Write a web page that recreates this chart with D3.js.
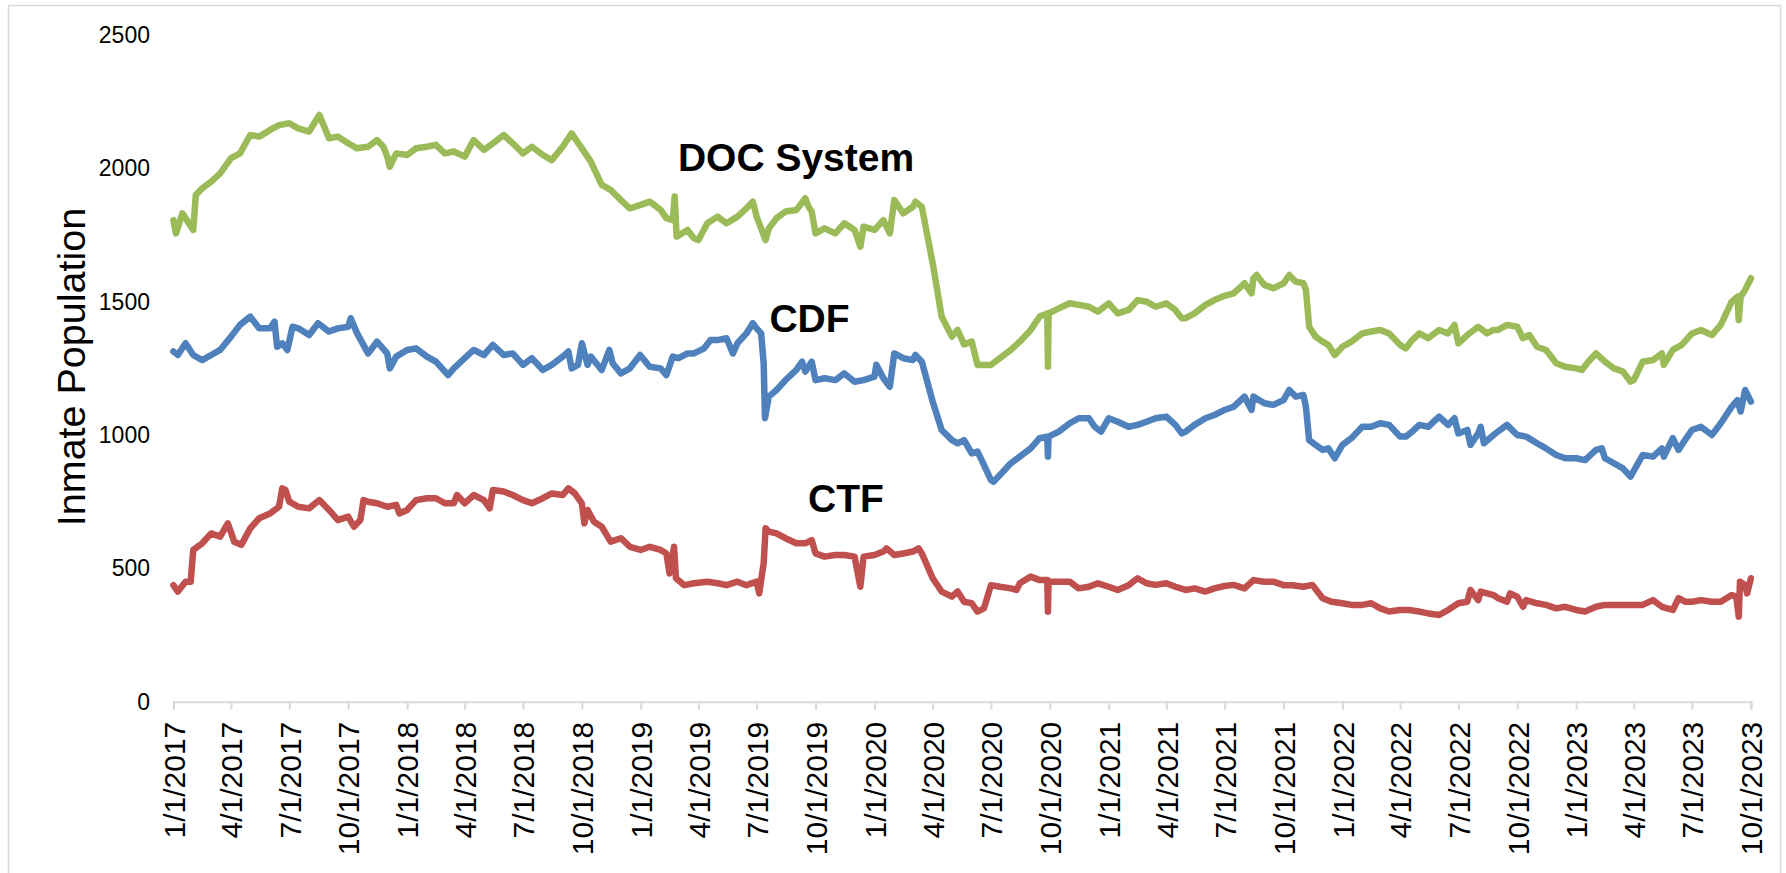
<!DOCTYPE html>
<html>
<head>
<meta charset="utf-8">
<script src="https://cdn.jsdelivr.net/npm/d3@7"></script>
<style>
    body { margin: 0; background: #fff; }
    svg text { font-family: "Liberation Sans", Arial, sans-serif; fill: #000; }
</style>
</head>
<body>
<div id="chart"></div>
<script>
// daily counts, kept at roughly half-month steps plus the spikes
var docSystem = [
    ["2017-01-01",1806],["2017-01-05",1756],["2017-01-15",1831],["2017-01-22",1806],["2017-02-01",1769],
    ["2017-02-05",1900],["2017-02-15",1925],["2017-03-01",1950],["2017-03-15",1981],["2017-04-01",2038],
    ["2017-04-15",2056],["2017-05-01",2125],["2017-05-15",2119],["2017-06-01",2144],["2017-06-15",2162],
    ["2017-07-01",2169],["2017-07-15",2150],["2017-08-01",2138],["2017-08-17",2200],["2017-09-01",2113],
    ["2017-09-15",2119],["2017-10-01",2094],["2017-10-15",2075],["2017-11-01",2081],["2017-11-15",2106],
    ["2017-11-25",2081],["2017-12-01",2044],["2017-12-05",2006],["2017-12-15",2056],["2018-01-01",2050],
    ["2018-01-15",2075],["2018-02-01",2081],["2018-02-15",2088],["2018-03-01",2056],["2018-03-15",2063],
    ["2018-04-01",2044],["2018-04-15",2106],["2018-05-01",2069],["2018-05-15",2094],["2018-06-01",2125],
    ["2018-06-15",2094],["2018-07-01",2056],["2018-07-15",2081],["2018-08-01",2050],["2018-08-15",2031],
    ["2018-09-01",2081],["2018-09-15",2131],["2018-10-01",2075],["2018-10-15",2025],["2018-11-01",1938],
    ["2018-11-15",1919],["2018-12-01",1881],["2018-12-15",1850],["2019-01-01",1863],["2019-01-15",1875],
    ["2019-02-01",1844],["2019-02-10",1813],["2019-02-20",1806],["2019-02-23",1894],["2019-02-26",1744],
    ["2019-03-15",1769],["2019-03-25",1738],["2019-04-01",1731],["2019-04-15",1794],["2019-05-01",1819],
    ["2019-05-15",1794],["2019-06-01",1819],["2019-06-15",1850],["2019-06-25",1875],["2019-07-01",1819],
    ["2019-07-15",1731],["2019-07-20",1775],["2019-08-01",1813],["2019-08-15",1838],["2019-09-01",1844],
    ["2019-09-15",1888],["2019-09-20",1856],["2019-09-25",1838],["2019-10-01",1756],["2019-10-15",1775],
    ["2019-11-01",1756],["2019-11-15",1794],["2019-12-01",1769],["2019-12-10",1706],["2019-12-15",1781],
    ["2020-01-01",1769],["2020-01-15",1806],["2020-01-25",1756],["2020-02-01",1881],["2020-02-15",1831],
    ["2020-03-01",1856],["2020-03-05",1875],["2020-03-15",1856],["2020-04-01",1644],["2020-04-15",1444],
    ["2020-05-01",1369],["2020-05-10",1394],["2020-05-20",1340],["2020-06-01",1350],["2020-06-10",1263],
    ["2020-07-01",1263],["2020-07-15",1288],["2020-08-01",1319],["2020-08-15",1350],["2020-09-01",1394],
    ["2020-09-15",1444],["2020-09-27",1456],["2020-09-28",1256],["2020-09-29",1456],["2020-10-15",1475],
    ["2020-11-01",1494],["2020-11-15",1488],["2020-12-01",1481],["2020-12-15",1463],["2021-01-01",1494],
    ["2021-01-15",1456],["2021-02-01",1469],["2021-02-15",1506],["2021-03-01",1500],["2021-03-15",1481],
    ["2021-04-01",1494],["2021-04-15",1469],["2021-04-25",1438],["2021-05-01",1438],["2021-05-15",1456],
    ["2021-06-01",1488],["2021-06-15",1506],["2021-07-01",1522],["2021-07-15",1531],["2021-08-01",1569],
    ["2021-08-12",1531],["2021-08-15",1588],["2021-08-20",1600],["2021-09-01",1563],["2021-09-15",1550],
    ["2021-10-01",1569],["2021-10-10",1600],["2021-10-20",1575],["2021-11-01",1569],["2021-11-05",1544],
    ["2021-11-10",1406],["2021-11-20",1369],["2021-12-01",1350],["2021-12-10",1338],["2021-12-20",1300],
    ["2022-01-01",1331],["2022-01-15",1350],["2022-02-01",1381],["2022-02-15",1388],["2022-03-01",1394],
    ["2022-03-15",1381],["2022-04-01",1338],["2022-04-10",1325],["2022-04-20",1356],["2022-05-01",1381],
    ["2022-05-15",1363],["2022-06-01",1394],["2022-06-15",1381],["2022-06-25",1413],["2022-07-01",1344],
    ["2022-07-15",1375],["2022-08-01",1406],["2022-08-15",1381],["2022-08-25",1394],["2022-09-01",1394],
    ["2022-09-15",1413],["2022-10-01",1406],["2022-10-10",1363],["2022-10-20",1375],["2022-11-01",1331],
    ["2022-11-15",1319],["2022-12-01",1269],["2022-12-15",1256],["2023-01-01",1250],["2023-01-10",1244],
    ["2023-01-20",1275],["2023-02-01",1306],["2023-02-15",1275],["2023-03-01",1250],["2023-03-15",1238],
    ["2023-03-27",1200],["2023-04-01",1206],["2023-04-15",1275],["2023-05-01",1281],["2023-05-15",1306],
    ["2023-05-18",1263],["2023-06-01",1319],["2023-06-15",1338],["2023-07-01",1381],["2023-07-15",1394],
    ["2023-08-01",1375],["2023-08-15",1413],["2023-09-01",1500],["2023-09-10",1519],["2023-09-12",1431],
    ["2023-09-15",1519],["2023-09-22",1544],["2023-10-01",1588]
];

var cdf = [
    ["2017-01-01",1313],["2017-01-08",1300],["2017-01-20",1344],["2017-02-01",1300],["2017-02-15",1281],
    ["2017-03-01",1300],["2017-03-15",1319],["2017-04-01",1369],["2017-04-15",1413],["2017-05-01",1444],
    ["2017-05-15",1400],["2017-06-01",1400],["2017-06-08",1425],["2017-06-12",1331],["2017-06-20",1344],
    ["2017-06-28",1319],["2017-07-06",1406],["2017-07-15",1400],["2017-08-01",1375],["2017-08-15",1419],
    ["2017-09-01",1388],["2017-09-15",1400],["2017-10-01",1406],["2017-10-05",1438],["2017-10-15",1381],
    ["2017-11-01",1306],["2017-11-15",1350],["2017-12-01",1306],["2017-12-05",1250],["2017-12-15",1294],
    ["2018-01-01",1319],["2018-01-15",1325],["2018-02-01",1294],["2018-02-15",1275],["2018-03-06",1225],
    ["2018-03-15",1250],["2018-04-01",1288],["2018-04-15",1319],["2018-05-01",1300],["2018-05-15",1338],
    ["2018-06-01",1300],["2018-06-15",1306],["2018-07-01",1263],["2018-07-15",1288],["2018-08-01",1244],
    ["2018-08-15",1263],["2018-09-01",1294],["2018-09-10",1313],["2018-09-15",1250],["2018-09-25",1263],
    ["2018-10-01",1344],["2018-10-10",1263],["2018-10-15",1294],["2018-11-01",1244],["2018-11-13",1319],
    ["2018-11-18",1269],["2018-12-01",1231],["2018-12-15",1250],["2018-12-31",1300],["2019-01-15",1256],
    ["2019-02-01",1250],["2019-02-10",1225],["2019-02-20",1294],["2019-03-01",1288],["2019-03-15",1306],
    ["2019-03-25",1306],["2019-04-10",1325],["2019-04-20",1356],["2019-05-01",1356],["2019-05-15",1363],
    ["2019-05-25",1306],["2019-06-01",1344],["2019-06-15",1381],["2019-06-25",1419],["2019-07-01",1400],
    ["2019-07-08",1381],["2019-07-12",1269],["2019-07-14",1063],["2019-07-20",1144],["2019-08-01",1169],
    ["2019-08-15",1206],["2019-09-01",1244],["2019-09-10",1275],["2019-09-15",1238],["2019-09-25",1275],
    ["2019-10-01",1206],["2019-10-15",1213],["2019-11-01",1206],["2019-11-15",1231],["2019-12-01",1200],
    ["2019-12-15",1206],["2020-01-01",1219],["2020-01-04",1263],["2020-01-15",1213],["2020-01-25",1181],
    ["2020-02-01",1306],["2020-02-15",1288],["2020-03-01",1281],["2020-03-05",1300],["2020-03-15",1275],
    ["2020-04-01",1125],["2020-04-15",1019],["2020-05-01",981],["2020-05-10",969],["2020-05-20",981],
    ["2020-06-01",931],["2020-06-10",938],["2020-06-20",888],["2020-07-01",831],["2020-07-05",825],
    ["2020-07-15",850],["2020-08-01",894],["2020-08-15",919],["2020-09-01",950],["2020-09-15",988],
    ["2020-09-27",994],["2020-09-28",919],["2020-09-29",994],["2020-10-15",1013],["2020-11-01",1044],
    ["2020-11-15",1063],["2020-12-01",1063],["2020-12-10",1031],["2020-12-20",1013],["2021-01-01",1063],
    ["2021-01-15",1050],["2021-02-01",1031],["2021-02-15",1038],["2021-03-01",1050],["2021-03-15",1063],
    ["2021-04-01",1069],["2021-04-15",1038],["2021-04-25",1006],["2021-05-01",1013],["2021-05-15",1038],
    ["2021-06-01",1063],["2021-06-15",1075],["2021-07-01",1094],["2021-07-15",1106],["2021-08-01",1144],
    ["2021-08-12",1094],["2021-08-15",1144],["2021-09-01",1119],["2021-09-15",1113],["2021-10-01",1131],
    ["2021-10-10",1169],["2021-10-20",1144],["2021-11-01",1150],["2021-11-05",1106],["2021-11-10",981],
    ["2021-11-20",963],["2021-12-01",944],["2021-12-10",950],["2021-12-20",913],["2022-01-01",963],
    ["2022-01-15",988],["2022-02-01",1031],["2022-02-15",1031],["2022-03-01",1044],["2022-03-15",1038],
    ["2022-04-01",994],["2022-04-10",994],["2022-04-20",1013],["2022-05-01",1038],["2022-05-15",1031],
    ["2022-06-01",1069],["2022-06-15",1038],["2022-06-25",1063],["2022-07-01",1006],["2022-07-15",1019],
    ["2022-07-20",963],["2022-08-01",1006],["2022-08-05",1031],["2022-08-10",969],["2022-08-25",1000],
    ["2022-09-01",1013],["2022-09-15",1038],["2022-10-01",1000],["2022-10-15",994],["2022-11-01",969],
    ["2022-11-15",950],["2022-12-01",925],["2022-12-15",913],["2023-01-01",913],["2023-01-15",906],
    ["2023-02-01",944],["2023-02-10",950],["2023-02-15",913],["2023-03-01",894],["2023-03-15",875],
    ["2023-03-27",844],["2023-04-15",925],["2023-05-01",919],["2023-05-15",950],["2023-05-18",919],
    ["2023-06-01",988],["2023-06-10",944],["2023-06-20",981],["2023-07-01",1019],["2023-07-15",1031],
    ["2023-08-01",1000],["2023-08-15",1044],["2023-09-01",1106],["2023-09-10",1131],["2023-09-15",1088],
    ["2023-09-22",1169],["2023-10-01",1125]
];

var ctf = [
    ["2017-01-01",437],["2017-01-08",413],["2017-01-20",450],["2017-01-28",450],["2017-02-01",569],
    ["2017-02-15",594],["2017-03-01",631],["2017-03-15",619],["2017-03-27",669],["2017-04-06",600],
    ["2017-04-17",588],["2017-05-01",650],["2017-05-15",688],["2017-06-01",706],["2017-06-15",731],
    ["2017-06-20",800],["2017-06-25",794],["2017-07-01",750],["2017-07-15",731],["2017-08-01",725],
    ["2017-08-17",756],["2017-09-01",719],["2017-09-15",681],["2017-10-01",694],["2017-10-10",656],
    ["2017-10-20",681],["2017-10-25",756],["2017-11-01",750],["2017-11-15",744],["2017-12-01",731],
    ["2017-12-15",738],["2017-12-20",706],["2018-01-01",719],["2018-01-15",756],["2018-02-01",763],
    ["2018-02-15",763],["2018-03-01",744],["2018-03-15",744],["2018-03-20",775],["2018-04-01",744],
    ["2018-04-15",775],["2018-05-01",756],["2018-05-10",725],["2018-05-15",794],["2018-06-01",788],
    ["2018-06-15",775],["2018-07-01",756],["2018-07-15",744],["2018-08-01",763],["2018-08-15",781],
    ["2018-09-01",775],["2018-09-10",800],["2018-09-20",781],["2018-10-01",744],["2018-10-05",669],
    ["2018-10-10",719],["2018-10-20",675],["2018-11-01",656],["2018-11-15",600],["2018-12-01",613],
    ["2018-12-15",581],["2019-01-01",569],["2019-01-15",581],["2019-02-01",569],["2019-02-10",556],
    ["2019-02-15",481],["2019-02-22",581],["2019-02-25",463],["2019-03-10",437],["2019-03-25",444],
    ["2019-04-15",450],["2019-05-01",444],["2019-05-15",437],["2019-06-01",450],["2019-06-15",437],
    ["2019-07-01",450],["2019-07-05",406],["2019-07-08",456],["2019-07-12",519],["2019-07-15",650],
    ["2019-07-20",638],["2019-08-01",631],["2019-08-15",613],["2019-09-01",594],["2019-09-15",594],
    ["2019-09-25",606],["2019-10-01",556],["2019-10-15",544],["2019-11-01",550],["2019-11-15",550],
    ["2019-12-01",544],["2019-12-10",431],["2019-12-15",544],["2020-01-01",550],["2020-01-15",563],
    ["2020-01-20",575],["2020-02-01",550],["2020-02-15",556],["2020-03-01",563],["2020-03-10",575],
    ["2020-03-15",556],["2020-04-01",463],["2020-04-15",413],["2020-05-01",394],["2020-05-10",413],
    ["2020-05-20",375],["2020-06-01",369],["2020-06-10",338],["2020-06-20",350],["2020-07-01",437],
    ["2020-07-15",431],["2020-08-01",425],["2020-08-10",419],["2020-08-15",444],["2020-09-01",469],
    ["2020-09-15",456],["2020-09-27",456],["2020-09-28",338],["2020-09-29",450],["2020-10-15",450],
    ["2020-11-01",450],["2020-11-15",425],["2020-12-01",431],["2020-12-15",444],["2021-01-01",431],
    ["2021-01-15",419],["2021-02-01",437],["2021-02-15",463],["2021-03-01",444],["2021-03-15",438],
    ["2021-04-01",444],["2021-04-15",431],["2021-05-01",419],["2021-05-15",425],["2021-06-01",413],
    ["2021-06-15",425],["2021-07-01",434],["2021-07-15",438],["2021-08-01",425],["2021-08-15",456],
    ["2021-09-01",450],["2021-09-15",450],["2021-10-01",437],["2021-10-15",437],["2021-11-01",431],
    ["2021-11-15",438],["2021-12-01",388],["2021-12-15",375],["2022-01-01",369],["2022-01-15",363],
    ["2022-02-01",363],["2022-02-15",369],["2022-03-01",350],["2022-03-15",338],["2022-04-01",344],
    ["2022-04-15",344],["2022-05-01",338],["2022-05-15",331],["2022-06-01",325],["2022-06-15",344],
    ["2022-07-01",369],["2022-07-15",375],["2022-07-20",419],["2022-08-01",381],["2022-08-05",413],
    ["2022-08-25",400],["2022-09-01",388],["2022-09-15",375],["2022-09-20",406],["2022-10-01",394],
    ["2022-10-10",356],["2022-10-15",381],["2022-11-01",369],["2022-11-15",363],["2022-12-01",350],
    ["2022-12-15",356],["2023-01-01",344],["2023-01-15",338],["2023-02-01",356],["2023-02-15",363],
    ["2023-03-01",363],["2023-03-15",363],["2023-04-01",363],["2023-04-15",363],["2023-05-01",381],
    ["2023-05-15",356],["2023-06-01",344],["2023-06-10",388],["2023-06-20",375],["2023-07-01",375],
    ["2023-07-15",381],["2023-08-01",375],["2023-08-15",375],["2023-09-01",400],["2023-09-08",394],
    ["2023-09-12",319],["2023-09-14",450],["2023-09-22",438],["2023-09-25",406],["2023-10-01",463]
];

var yTicks = [0, 500, 1000, 1500, 2000, 2500];
var xTicks = ["2017-01-01","2017-04-01","2017-07-01","2017-10-01","2018-01-01","2018-04-01","2018-07-01",
    "2018-10-01","2019-01-01","2019-04-01","2019-07-01","2019-10-01","2020-01-01","2020-04-01","2020-07-01",
    "2020-10-01","2021-01-01","2021-04-01","2021-07-01","2021-10-01","2022-01-01","2022-04-01","2022-07-01",
    "2022-10-01","2023-01-01","2023-04-01","2023-07-01","2023-10-01"];
var seriesNames = ["DOC System", "CDF", "CTF"];

var parseDate = d3.timeParse("%Y-%m-%d");
var fmt = d3.timeFormat("%-m/%-d/%Y");

var w = 1786, h = 873;
var svg = d3.select("#chart").append("svg")
    .attr("width", w)
    .attr("height", h);

// chart area border
svg.append("rect")
    .attr("x", 8.5).attr("y", 5.5)
    .attr("width", 1772).attr("height", 870)
    .style("fill", "#fff")
    .style("stroke", "#d9d9d9")
    .style("stroke-width", 1.5);

var x = d3.scaleTime()
    .domain([parseDate("2017-01-01"), parseDate("2023-10-01")])
    .range([173.4, 1750.9]);
var y = d3.scaleLinear()
    .domain([0, 2500])
    .range([701.7, 35]);

// x axis
var xAxis = svg.append("g")
    .attr("transform", "translate(0," + y(0) + ")")
    .call(d3.axisBottom(x)
        .tickValues(xTicks.map(parseDate))
        .tickFormat(fmt)
        .tickSizeOuter(0)
        .tickSize(8));
xAxis.select(".domain").style("stroke", "#d9d9d9").style("stroke-width", 2);
xAxis.selectAll(".tick line").style("stroke", "#d9d9d9").style("stroke-width", 2);
xAxis.selectAll(".tick text")
    .style("font-family", "'Liberation Sans', Arial, sans-serif")
    .style("font-size", "30px")
    .attr("fill", "#000")
    .attr("text-anchor", "end")
    .attr("transform", "rotate(-90)")
    .attr("x", -20)
    .attr("y", 0)
    .attr("dy", "0.36em");

// y axis: labels only
var yAxis = svg.append("g")
    .attr("transform", "translate(150,0)")
    .call(d3.axisLeft(y).tickValues(yTicks).tickFormat(d3.format("d")).tickSize(0).tickPadding(0));
yAxis.select(".domain").remove();
yAxis.selectAll(".tick text")
    .style("font-family", "'Liberation Sans', Arial, sans-serif")
    .style("font-size", "23px")
    .attr("fill", "#000");

svg.append("text")
    .attr("transform", "translate(85," + 367 + ") rotate(-90)")
    .attr("text-anchor", "middle")
    .style("font-size", "39.5px")
    .text("Inmate Population");

var line = d3.line()
    .x(function (d) { return x(parseDate(d[0])); })
    .y(function (d) { return y(d[1]); });

var series = [
    {name: seriesNames[0], data: docSystem, color: "#9bbb59"},
    {name: seriesNames[1], data: cdf, color: "#4f81bd"},
    {name: seriesNames[2], data: ctf, color: "#c0504d"}
];

series.forEach(function (s) {
    svg.append("path")
        .datum(s.data)
        .attr("d", line)
        .style("fill", "none")
        .style("stroke", s.color)
        .style("stroke-width", 6.5)
        .style("stroke-linejoin", "round")
        .style("stroke-linecap", "round");
});

// series labels
var labelPos = [[796, 170.7], [809.5, 332], [846, 511.5]];
seriesNames.forEach(function (n, i) {
    svg.append("text")
        .attr("x", labelPos[i][0])
        .attr("y", labelPos[i][1])
        .attr("text-anchor", "middle")
        .style("font-size", "39px")
        .style("font-weight", "bold")
        .text(n);
});
</script>
</body>
</html>
